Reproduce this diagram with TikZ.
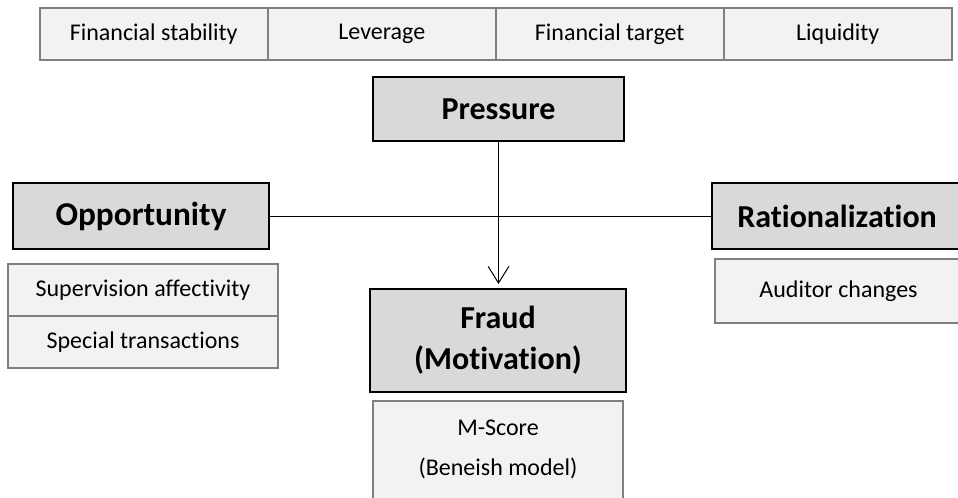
\documentclass[tikz,border=0pt]{standalone}
\usepackage{fontspec}
\setmainfont{Carlito}[Ligatures=NoCommon]
\usepackage{xcolor}
\usetikzlibrary{arrows.meta, positioning}
\definecolor{boxdark}{HTML}{D9D9D9}
\definecolor{boxlight}{HTML}{F2F2F2}
\definecolor{edgegray}{HTML}{808080}

\begin{document}
\begin{tikzpicture}[x=0.75pt, y=-0.75pt,
    every node/.style={font=\fontsize{18}{21}\selectfont},
    factor/.style={draw=black, line width=1.5pt, fill=boxdark, align=center,
        font=\fontsize{24}{31}\selectfont\bfseries},
    item/.style={draw=edgegray, line width=1.5pt, fill=boxlight}]
    \useasboundingbox (0,0) rectangle (958,497);
    % pressure indicators
    \node[item,minimum width=171pt,minimum height=39pt] (fin1) at (153.75,34) {Financial stability};
    \node[item,minimum width=171pt,minimum height=39pt] (fin2) at (381.75,34) {Leverage};
    \node[item,minimum width=171pt,minimum height=39pt] (fin3) at (609.75,34) {Financial target};
    \node[item,minimum width=171pt,minimum height=39pt] (fin4) at (837.75,34) {Liquidity};
    % triangle
    \node[factor,minimum width=188.25pt,minimum height=48pt] (pres) at (498.5,109) {Pressure};
    \node[factor,minimum width=192pt,minimum height=49.5pt,font=\fontsize{25}{31}\selectfont\bfseries] (opp) at (141,216) {Opportunity};
    \node[factor,minimum width=187.5pt,minimum height=49.5pt] (rat) at (837,216) {Rationalization};
    \node[factor,minimum width=192pt,minimum height=77.25pt] (fraud) at (498,340.5) {Fraud\\(Motivation)};
    % indicators
    \node[item,minimum width=202.5pt,minimum height=38.8pt] (sup) at (143,290) {Supervision affectivity};
    \node[item,minimum width=202.5pt,minimum height=38.8pt] (spec) at (143,341.75) {Special transactions};
    \node[item,minimum width=185.25pt,minimum height=48pt] (aud) at (838.5,291) {Auditor changes};
    \node[item,minimum width=187.5pt,minimum height=82.5pt,anchor=north] (mscore) at (498,400) {};
    \node (mA) at (498,428) {M-Score};
    \node (mB) at (498,468) {(Beneish model)};
    \draw[line width=0.75pt] (opp) -- (rat);
    \draw[-{Straight Barb[length=12.5pt,width=15.5pt]},line width=0.75pt,shorten >=3pt]
        (pres.south) -- (pres.south |- fraud.north);
\end{tikzpicture}
\end{document}
